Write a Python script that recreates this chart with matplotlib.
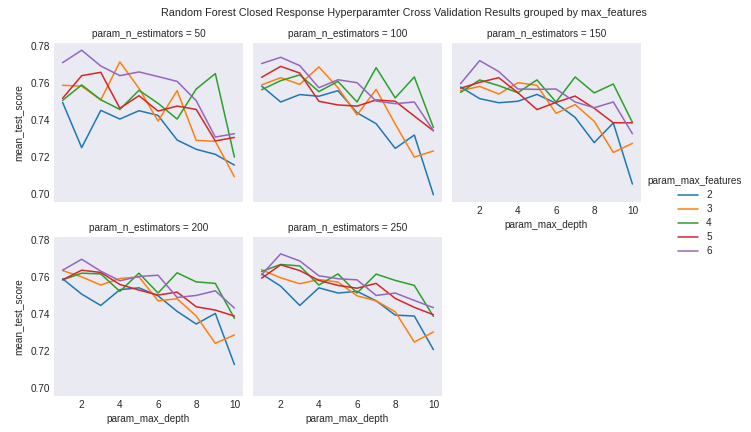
import matplotlib
matplotlib.use("Agg")
import matplotlib.pyplot as plt
import seaborn as sns

max_depth = [1, 2, 3, 4, 5, 6, 7, 8, 9, 10]
max_features = [2, 3, 4, 5, 6]
n_estimators = [50, 100, 150, 200, 250]

# mean_test_score per max_features (rows: 2,3,4,5,6), per n_estimators
scores_50 = [
    [0.7496, 0.7252, 0.7453, 0.7406, 0.7451, 0.7426, 0.7293, 0.7243, 0.7216, 0.7158],
    [0.7588, 0.7583, 0.7509, 0.7714, 0.7572, 0.7395, 0.7559, 0.7291, 0.7286, 0.7095],
    [0.7507, 0.7590, 0.7510, 0.7458, 0.7561, 0.7491, 0.7406, 0.7568, 0.7651, 0.7201],
    [0.7518, 0.7640, 0.7658, 0.7464, 0.7532, 0.7449, 0.7476, 0.7458, 0.7288, 0.7307],
    [0.7710, 0.7777, 0.7692, 0.7640, 0.7660, 0.7635, 0.7609, 0.7505, 0.7309, 0.7327],
]
scores_100 = [
    [0.7584, 0.7498, 0.7538, 0.7529, 0.7559, 0.7440, 0.7381, 0.7248, 0.7320, 0.6998],
    [0.7590, 0.7629, 0.7593, 0.7687, 0.7575, 0.7428, 0.7566, 0.7379, 0.7201, 0.7234],
    [0.7564, 0.7613, 0.7644, 0.7554, 0.7609, 0.7498, 0.7683, 0.7520, 0.7633, 0.7360],
    [0.7631, 0.7690, 0.7654, 0.7502, 0.7482, 0.7476, 0.7509, 0.7502, 0.7422, 0.7343],
    [0.7705, 0.7739, 0.7694, 0.7575, 0.7618, 0.7602, 0.7503, 0.7489, 0.7498, 0.7343],
]
scores_150 = [
    [0.7579, 0.7516, 0.7494, 0.7502, 0.7539, 0.7491, 0.7415, 0.7279, 0.7385, 0.7056],
    [0.7559, 0.7582, 0.7541, 0.7602, 0.7588, 0.7437, 0.7484, 0.7394, 0.7226, 0.7275],
    [0.7550, 0.7617, 0.7586, 0.7548, 0.7617, 0.7498, 0.7633, 0.7547, 0.7595, 0.7388],
    [0.7572, 0.7604, 0.7629, 0.7548, 0.7457, 0.7496, 0.7530, 0.7464, 0.7386, 0.7386],
    [0.7597, 0.7721, 0.7662, 0.7568, 0.7566, 0.7568, 0.7498, 0.7467, 0.7498, 0.7327],
]
scores_200 = [
    [0.7591, 0.7508, 0.7447, 0.7532, 0.7542, 0.7499, 0.7415, 0.7347, 0.7404, 0.7129],
    [0.7635, 0.7601, 0.7557, 0.7592, 0.7601, 0.7472, 0.7483, 0.7390, 0.7243, 0.7288],
    [0.7585, 0.7621, 0.7617, 0.7523, 0.7621, 0.7514, 0.7623, 0.7574, 0.7566, 0.7378],
    [0.7585, 0.7637, 0.7625, 0.7560, 0.7530, 0.7503, 0.7519, 0.7440, 0.7422, 0.7390],
    [0.7637, 0.7696, 0.7632, 0.7580, 0.7603, 0.7610, 0.7490, 0.7501, 0.7526, 0.7433],
]
scores_250 = [
    [0.7617, 0.7551, 0.7447, 0.7542, 0.7514, 0.7523, 0.7472, 0.7395, 0.7390, 0.7209],
    [0.7639, 0.7596, 0.7564, 0.7587, 0.7573, 0.7499, 0.7472, 0.7413, 0.7250, 0.7304],
    [0.7630, 0.7668, 0.7660, 0.7557, 0.7617, 0.7514, 0.7616, 0.7582, 0.7555, 0.7388],
    [0.7594, 0.7666, 0.7635, 0.7582, 0.7555, 0.7540, 0.7566, 0.7485, 0.7437, 0.7397],
    [0.7612, 0.7725, 0.7687, 0.7607, 0.7591, 0.7585, 0.7501, 0.7514, 0.7474, 0.7435],
]
all_scores = [scores_50, scores_100, scores_150, scores_200, scores_250]

sns.set_style("dark")
plt.rcParams['font.family'] = ['Liberation Sans', 'DejaVu Sans']

colors = ['#1f77b4', '#ff7f0e', '#2ca02c', '#d62728', '#9467bd']
fs = 7.2

W, H = 751, 432
fig = plt.figure(figsize=(W / 100, H / 100), dpi=100)

lefts = [54, 253, 452]
aw, ah = 189, 159
tops = [43, 237]

axes = []
for i, n in enumerate(n_estimators):
    r, c = divmod(i, 3)
    l = lefts[c]
    t = tops[r]
    ax = fig.add_axes([l / W, 1 - (t + ah) / H, aw / W, ah / H])
    axes.append(ax)
    for j, mf in enumerate(max_features):
        ax.plot(max_depth, all_scores[i][j], color=colors[j], lw=1.1, label=str(mf))
    ax.set_title(f"param_n_estimators = {n}", fontsize=fs, pad=4)
    for s in ax.spines.values():
        s.set_visible(False)

ymin = min(min(min(s) for s in sc) for sc in all_scores)
ymax = max(max(max(s) for s in sc) for sc in all_scores)
pad = 0.05 * (ymax - ymin)
for i, ax in enumerate(axes):
    ax.set_ylim(ymin - pad, ymax + pad)
    ax.set_xlim(0.55, 10.45)
    ax.set_yticks([0.70, 0.72, 0.74, 0.76, 0.78])
    ax.set_xticks([2, 4, 6, 8, 10])
    ax.tick_params(labelsize=fs, length=0, pad=3)
    r, c = divmod(i, 3)
    if c != 0:
        ax.tick_params(labelleft=False)
    else:
        ax.set_ylabel("mean_test_score", fontsize=fs)
    if i in (2, 3, 4):
        ax.set_xlabel("param_max_depth", fontsize=fs, labelpad=3)
    else:
        ax.tick_params(labelbottom=False)

handles, labels = axes[0].get_legend_handles_labels()
leg = fig.legend(handles, labels, title="param_max_features", loc="center",
                 bbox_to_anchor=(695 / W, 1 - 216 / H), frameon=False,
                 fontsize=fs, title_fontsize=fs, handlelength=2.0,
                 handletextpad=0.8, labelspacing=0.4, borderpad=0.2)

fig.suptitle("Random Forest Closed Response Hyperparamter Cross Validation Results grouped by max_features",
             fontsize=7.75, x=404 / W, y=1 - 8 / H, va="top")

fig.savefig("out.png", dpi=100)
